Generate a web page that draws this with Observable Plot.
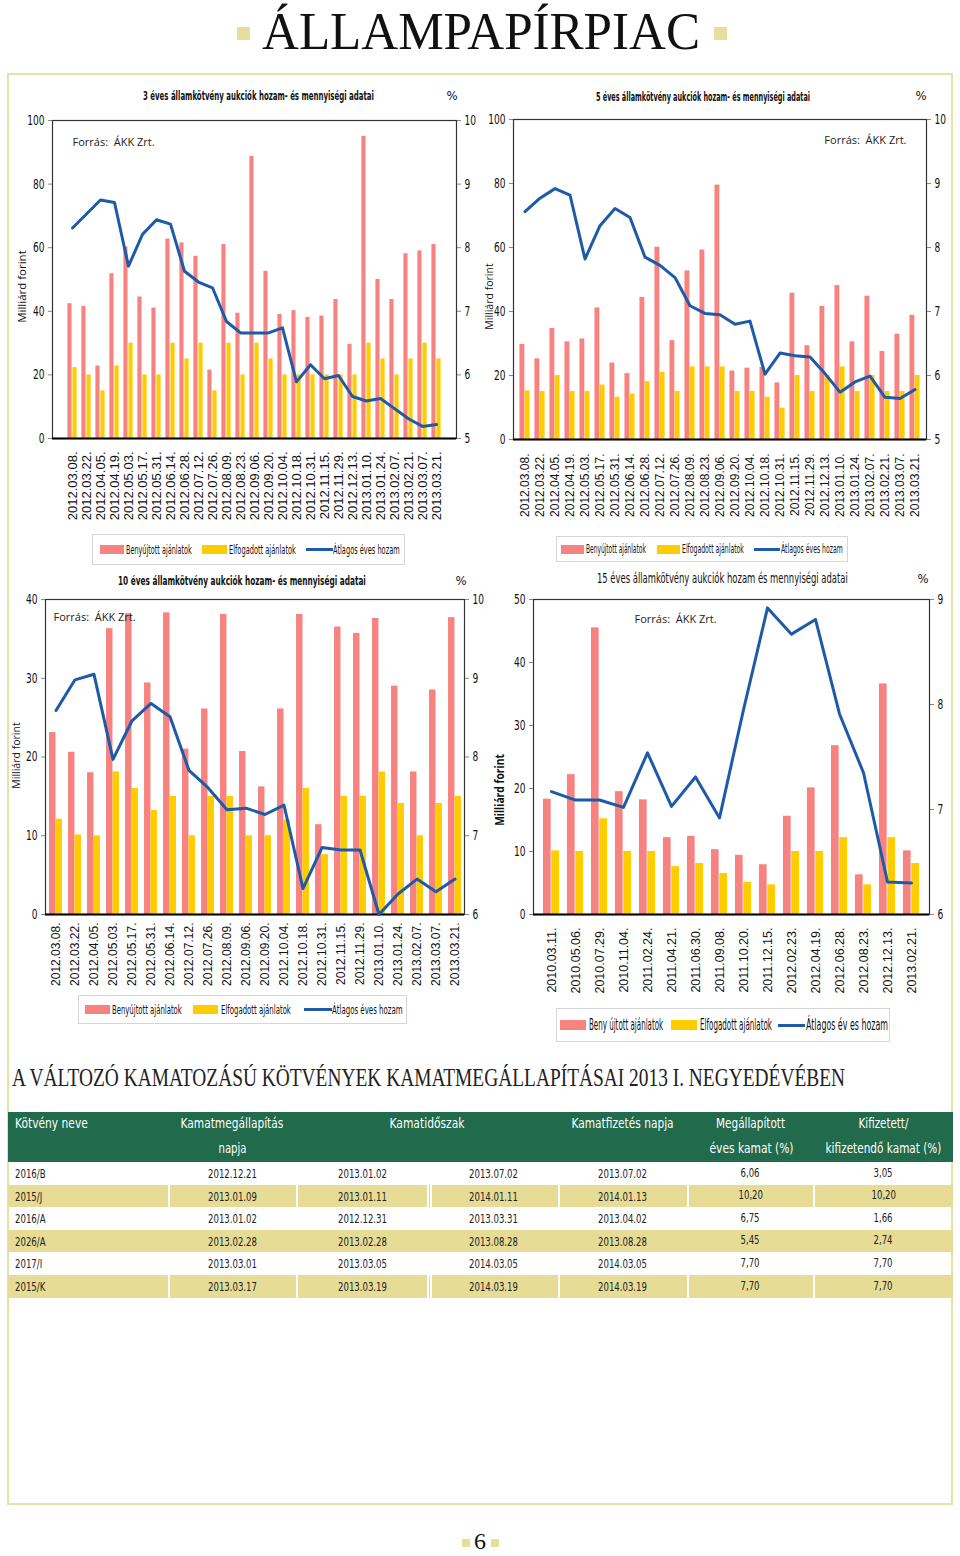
<!DOCTYPE html>
<html><head><meta charset="utf-8">
<script src="https://cdn.jsdelivr.net/npm/d3@7"></script>
<script src="https://cdn.jsdelivr.net/npm/@observablehq/plot@0.6"></script>
<style>
html,body{margin:0;padding:0;background:#fff;}
#page{position:relative;width:960px;height:1556px;overflow:hidden;background:#fff;}
.t{position:absolute;white-space:nowrap;line-height:1;}
.abs{position:absolute;}
svg{overflow:visible;}
</style></head><body><div id="page"></div>
<script>
// ---------- DATA ----------
const dates3 = ["2012.03.08.","2012.03.22.","2012.04.05.","2012.04.19.","2012.05.03.","2012.05.17.","2012.05.31.","2012.06.14.","2012.06.28.","2012.07.12.","2012.07.26.","2012.08.09.","2012.08.23.","2012.09.06.","2012.09.20.","2012.10.04.","2012.10.18.","2012.10.31.","2012.11.15.","2012.11.29.","2012.12.13.","2013.01.10.","2013.01.24.","2013.02.07.","2013.02.21.","2013.03.07.","2013.03.21."];
const sub3 = [42.4,41.5,22.8,51.8,60.2,44.5,41.0,62.7,61.5,57.3,21.5,61.0,39.4,88.7,52.6,39.0,40.2,38.1,38.5,43.7,29.6,95.0,50.0,43.7,58.1,59.0,61.0];
const acc3 = [22.3,20,15,22.8,30,20,20,30,25,30,15,30,20,30,25,20,20,20,20,20,20,30,25,20,25,30,25];
const yld3 = [8.31,8.53,8.75,8.71,7.71,8.21,8.44,8.37,7.63,7.46,7.37,6.84,6.66,6.66,6.66,6.74,5.89,6.16,5.94,5.99,5.66,5.59,5.63,5.47,5.31,5.19,5.22];

const dates5 = dates3.slice();
const sub5 = [29.7,25.2,34.7,30.5,31.4,41.1,23.9,20.6,44.4,60.1,30.9,52.7,59.2,79.5,21.4,22.3,22.5,17.7,45.7,29.3,41.6,48.1,30.5,44.8,27.5,32.9,38.8];
const acc5 = [15.2,15,20,15,15,17,13.2,14.2,18.1,21,15,22.7,22.7,22.7,15,15,13.2,9.8,20,15,20,22.7,15,20,15,15,20];
const yld5 = [8.56,8.77,8.92,8.82,7.82,8.34,8.61,8.47,7.85,7.72,7.53,7.09,6.97,6.95,6.80,6.85,6.02,6.35,6.31,6.29,6.03,5.74,5.90,5.99,5.66,5.64,5.78];

const dates10 = ["2012.03.08.","2012.03.22.","2012.04.05.","2012.05.03.","2012.05.17.","2012.05.31.","2012.06.14.","2012.07.12.","2012.07.26.","2012.08.09.","2012.09.06.","2012.09.20.","2012.10.04.","2012.10.18.","2012.10.31.","2012.11.15.","2012.11.29.","2013.01.10.","2013.01.24.","2013.02.07.","2013.03.07.","2013.03.21."];
const sub10 = [23.1,20.6,18.0,36.3,38.2,29.4,38.3,21.0,26.1,38.1,20.7,16.2,26.1,38.1,11.4,36.5,35.7,37.6,29.0,18.1,28.5,37.7];
const acc10 = [12.1,10.1,10,18.1,16,13.2,15,10,15,15,10,10,12,16,7.6,15,15,18.1,14.1,10,14.1,15];
const yld10 = [8.59,8.98,9.05,7.97,8.46,8.68,8.51,7.83,7.61,7.33,7.35,7.27,7.39,6.33,6.85,6.82,6.82,6.00,6.26,6.45,6.29,6.45];

const dates15 = ["2010.03.11.","2010.05.06.","2010.07.29.","2010.11.04.","2011.02.24.","2011.04.21.","2011.06.30.","2011.09.08.","2011.10.20.","2011.12.15.","2012.02.23.","2012.04.19.","2012.06.28.","2012.08.23.","2012.12.13.","2013.02.21."];
const sub15 = [18.3,22.2,45.5,19.5,18.2,12.2,12.4,10.3,9.4,7.9,15.6,20.1,26.8,6.3,36.6,10.1];
const acc15 = [10.1,10,15.2,10,10,7.6,8.1,6.5,5.1,4.7,10,10,12.2,4.7,12.2,8.1];
const yld15 = [7.17,7.09,7.09,7.02,7.54,7.03,7.31,6.92,7.95,8.92,8.67,8.81,7.91,7.35,6.31,6.30];

const ticksL3 = [0,20,40,60,80,100], ticksR3 = [5,6,7,8,9,10];
const ticksL10 = [0,10,20,30,40], ticksR10 = [6,7,8,9,10];
const ticksL15 = [0,10,20,30,40,50], ticksR15 = [6,7,8,9];

const legendLabels = ["Benyújtott ajánlatok","Elfogadott ajánlatok","Átlagos éves hozam"];
const legendLabels15 = ["Beny újtott ajánlatok","Elfogadott ajánlatok","Átlagos év es hozam"];

const tableHead = ["Kötvény neve","Kamatmegállapítás","napja","Kamatidőszak","Kamatfizetés napja","Megállapított","éves kamat (%)","Kifizetett/","kifizetendő kamat (%)"];
const bondNames = ["2016/B","2015/J","2016/A","2026/A","2017/I","2015/K"];
const fixDates = ["2012.12.21","2013.01.09","2013.01.02","2013.02.28","2013.03.01","2013.03.17"];
const periodStart = ["2013.01.02","2013.01.11","2012.12.31","2013.02.28","2013.03.05","2013.03.19"];
const periodEnd = ["2013.07.02","2014.01.11","2013.03.31","2013.08.28","2014.03.05","2014.03.19"];
const payDates = ["2013.07.02","2014.01.13","2013.04.02","2013.08.28","2014.03.05","2014.03.19"];
const rates = ["6,06","10,20","6,75","5,45","7,70","7,70"];
const paidRates = ["3,05","10,20","1,66","2,74","7,70","7,70"];

// ---------- STYLE ----------
const RED = "#f7827f", YEL = "#ffcc00", BLUE = "#1f5aa8";
const NARROW = "'Liberation Sans Narrow','Arial Narrow','DejaVu Sans Condensed',sans-serif";
const SANS = "'Liberation Sans',Arial,sans-serif";
const SERIF = "'Liberation Serif','DejaVu Serif',serif";
const page = document.getElementById("page");

function box(x, y, w, h, css) {
  const d = document.createElement("div");
  d.className = "abs";
  d.style.left = x + "px"; d.style.top = y + "px";
  d.style.width = w + "px"; d.style.height = h + "px";
  Object.assign(d.style, css || {});
  page.appendChild(d);
  return d;
}
function txt(str, o) {
  const el = document.createElement("div");
  el.className = "t";
  el.textContent = str;
  el.style.fontFamily = o.family || NARROW;
  el.style.fontSize = (o.size || 12) + "px";
  el.style.fontWeight = o.weight || "normal";
  el.style.color = o.color || "#111";
  if (o.ls) el.style.letterSpacing = o.ls + "px";
  page.appendChild(el);
  const w0 = el.offsetWidth, h0 = el.offsetHeight;
  const s = o.w ? o.w / w0 : (o.sx || 1);
  const anchor = o.anchor || "start";
  el.style.top = (o.y - h0 / 2) + "px";
  if (o.rotate) {
    el.style.left = (o.x - w0 / 2) + "px";
    el.style.transformOrigin = "50% 50%";
    el.style.transform = `rotate(${o.rotate}deg) scaleX(${s})`;
  } else {
    if (anchor === "start") { el.style.left = o.x + "px"; el.style.transformOrigin = "0 50%"; }
    else if (anchor === "middle") { el.style.left = (o.x - w0 / 2) + "px"; el.style.transformOrigin = "50% 50%"; }
    else { el.style.left = (o.x - w0) + "px"; el.style.transformOrigin = "100% 50%"; }
    el.style.transform = `scaleX(${s})`;
  }
  return el;
}
function measure(str, size, family) {
  const el = txt(str, {x: 0, y: -100, size, family});
  const w = el.offsetWidth; el.remove(); return w;
}

// ---------- PAGE FRAME ----------
box(7, 73, 946, 1432, {border: "2.5px solid #e8e0a6", boxSizing: "border-box"});
box(237, 27, 13, 13, {background: "#e6de9c"});
box(714, 27, 13, 13, {background: "#e6de9c"});
txt("ÁLLAMPAPÍRPIAC", {x: 262, y: 32, w: 438, size: 52, family: SERIF, color: "#111"});
box(462, 1539, 8, 8, {background: "#e6de9c"});
box(491, 1539, 8, 8, {background: "#e6de9c"});
txt("6", {x: 480, y: 1541, size: 24, family: SERIF, anchor: "middle"});

// ---------- CHARTS ----------
function chart(c) {
  const data = c.dates.map((d, i) => ({d, sub: c.sub[i], acc: c.acc[i], yld: c.yld[i]}));
  const k = c.yMax / (c.rMax - c.rMin);
  const bw = (c.width - c.mL - c.mR) / c.dates.length;
  const svg = Plot.plot({
    width: c.width, height: c.height,
    marginLeft: c.mL, marginRight: c.mR, marginTop: c.mT, marginBottom: c.mB,
    x: {type: "band", domain: c.dates, padding: 0, label: null},
    y: {domain: [0, c.yMax], label: null},
    style: {fontFamily: NARROW, fontSize: "14px", background: "transparent", color: "#111", overflow: "visible"},
    marks: [
      Plot.barY(data, {x: "d", y: "sub", fill: RED, insetLeft: bw * 0.16, insetRight: bw * 0.5}),
      Plot.barY(data, {x: "d", y: "acc", fill: YEL, insetLeft: bw * 0.5, insetRight: bw * 0.16}),
      Plot.frame({stroke: "#333", strokeWidth: 1.2}),
      Plot.ruleY([0], {stroke: "#000", strokeWidth: 2}),
      Plot.line(data, {x: "d", y: d => (d.yld - c.rMin) * k, stroke: BLUE, strokeWidth: 3}),
      Plot.axisY({anchor: "left", ticks: c.ticksL, tickSize: 4, tickPadding: 4, stroke: "#888", fontSize: 14, fontFamily: NARROW, label: null}),
      Plot.axisY({anchor: "right", ticks: c.ticksR.map(v => (v - c.rMin) * k), tickFormat: v => String(Math.round(v / k + c.rMin)), tickSize: 4, tickPadding: 4, stroke: "#888", fontSize: 14, fontFamily: NARROW, label: null}),
      Plot.axisX({tickRotate: -90, tickSize: 0, tickPadding: c.xPad, fontSize: c.xFont, fontFamily: SANS, label: null}),
      Plot.text([c.forras], {text: d => d, frameAnchor: c.fAnchor, textAnchor: c.fAnchor === "top-right" ? "end" : "start", dx: c.fdx, dy: c.fdy, fontSize: 11, fontFamily: "'Open Sans',sans-serif", fill: "#222"})
    ]
  });
  const holder = box(c.left, c.top, c.width, c.height, {});
  holder.appendChild(svg);
  // squeeze y tick labels to look like a narrow face
  svg.querySelectorAll('g[aria-label="y-axis tick label"] text').forEach(t => {
    const L = t.getComputedTextLength();
    if (L > 0) { t.setAttribute("textLength", (L * 0.72).toFixed(2)); t.setAttribute("lengthAdjust", "spacingAndGlyphs"); }
  });
}

const FORRAS = "Forrás:  ÁKK Zrt.";
chart({dates: dates3, sub: sub3, acc: acc3, yld: yld3, yMax: 100, rMin: 5, rMax: 10, ticksL: ticksL3, ticksR: ticksR3,
  left: 0, top: 100, width: 480, height: 440, mL: 52, mR: 24, mT: 20, mB: 102, xPad: 13, xFont: 13,
  forras: FORRAS, fAnchor: "top-left", fdx: 20, fdy: 18});
chart({dates: dates5, sub: sub5, acc: acc5, yld: yld5, yMax: 100, rMin: 5, rMax: 10, ticksL: ticksL3, ticksR: ticksR3,
  left: 480, top: 100, width: 480, height: 440, mL: 33, mR: 34, mT: 19, mB: 101, xPad: 14, xFont: 12,
  forras: FORRAS, fAnchor: "top-right", fdx: -20, fdy: 17});
chart({dates: dates10, sub: sub10, acc: acc10, yld: yld10, yMax: 40, rMin: 6, rMax: 10, ticksL: ticksL10, ticksR: ticksR10,
  left: 0, top: 585, width: 480, height: 410, mL: 45, mR: 16, mT: 14, mB: 81, xPad: 8, xFont: 12,
  forras: FORRAS, fAnchor: "top-left", fdx: 8, fdy: 14});
chart({dates: dates15, sub: sub15, acc: acc15, yld: yld15, yMax: 50, rMin: 6, rMax: 9, ticksL: ticksL15, ticksR: ticksR15,
  left: 480, top: 585, width: 480, height: 425, mL: 53, mR: 31, mT: 14, mB: 96, xPad: 13, xFont: 12.5,
  forras: FORRAS, fAnchor: "top-left", fdx: 101, fdy: 16});

// chart titles, % labels, y labels
txt("3 éves államkötvény aukciók hozam- és mennyiségi adatai", {x: 143, y: 96, w: 231, size: 12, weight: "bold"});
txt("5 éves államkötvény aukciók hozam- és mennyiségi adatai", {x: 596, y: 97, w: 214, size: 12, weight: "bold"});
txt("10 éves államkötvény aukciók hozam- és mennyiségi adatai", {x: 118, y: 580, w: 248, size: 13, weight: "bold"});
txt("15 éves államkötvény aukciók hozam és mennyiségi adatai", {x: 597, y: 578, w: 251, size: 14});
txt("%", {x: 452, y: 95, size: 13, anchor: "middle"});
txt("%", {x: 921, y: 95, size: 13, anchor: "middle"});
txt("%", {x: 461, y: 580, size: 13, anchor: "middle"});
txt("%", {x: 923, y: 578, size: 13, anchor: "middle"});
const OPEN = "'Open Sans',sans-serif";
txt("Milliárd forint", {x: 21, y: 286, w: 72, size: 11, family: OPEN, rotate: -90});
txt("Milliárd forint", {x: 488, y: 296, w: 66, size: 11, family: OPEN, rotate: -90});
txt("Milliárd forint", {x: 15, y: 755, w: 66, size: 11, family: OPEN, rotate: -90});
txt("Milliárd forint", {x: 500, y: 790, w: 72, size: 12, family: OPEN, weight: "bold", rotate: -90});

// ---------- LEGENDS ----------
function legend(L) {
  box(L.x, L.y, L.w, L.h, {border: "1px solid #d6d6d6", background: "#fff", boxSizing: "border-box"});
  const cy = L.y + L.h / 2;
  box(L.r[0], cy - L.sh / 2, L.r[1] - L.r[0], L.sh, {background: RED});
  box(L.yl[0], cy - L.sh / 2, L.yl[1] - L.yl[0], L.sh, {background: YEL});
  box(L.ln[0], cy - 1.5, L.ln[1] - L.ln[0], 3, {background: BLUE});
  L.labels.forEach((s, i) => txt(s, {x: L.tx[i][0], y: cy, w: L.tx[i][1] - L.tx[i][0], size: L.size}));
}
legend({x: 92, y: 534, w: 313, h: 31, sh: 9, r: [100, 124], yl: [202, 227], ln: [306, 333], size: 12,
  tx: [[126, 192], [229, 296], [333, 400]], labels: legendLabels});
legend({x: 556, y: 536, w: 292, h: 26, sh: 9, r: [561, 584], yl: [657, 680], ln: [754, 780], size: 12,
  tx: [[586, 646], [682, 744], [781, 843]], labels: legendLabels});
legend({x: 78, y: 995, w: 329, h: 29, sh: 9, r: [85, 110], yl: [193, 218], ln: [304, 332], size: 12,
  tx: [[112, 182], [221, 291], [332, 403]], labels: legendLabels});
legend({x: 556, y: 1008, w: 334, h: 34, sh: 10, r: [560, 586], yl: [671, 697], ln: [778, 805], size: 15,
  tx: [[589, 663], [700, 772], [806, 888]], labels: legendLabels15});

// ---------- TABLE ----------
txt("A VÁLTOZÓ KAMATOZÁSÚ KÖTVÉNYEK KAMATMEGÁLLAPÍTÁSAI 2013 I. NEGYEDÉVÉBEN", {x: 12, y: 1077, w: 833, size: 25, family: SERIF, color: "#222"});
box(8, 1112, 945, 50, {background: "#216a4b"});
const hy1 = 1123, hy2 = 1148, W = "#ffffff";
txt(tableHead[0], {x: 15, y: hy1, w: 73, size: 14, color: W});
txt(tableHead[1], {x: 232, y: hy1, w: 103, size: 14, color: W, anchor: "middle"});
txt(tableHead[2], {x: 232, y: hy2, w: 28, size: 14, color: W, anchor: "middle"});
txt(tableHead[3], {x: 427, y: hy1, w: 75, size: 14, color: W, anchor: "middle"});
txt(tableHead[4], {x: 622, y: hy1, w: 102, size: 14, color: W, anchor: "middle"});
txt(tableHead[5], {x: 750, y: hy1, w: 69, size: 14, color: W, anchor: "middle"});
txt(tableHead[6], {x: 751, y: hy2, w: 84, size: 14, color: W, anchor: "middle"});
txt(tableHead[7], {x: 883, y: hy1, w: 50, size: 14, color: W, anchor: "middle"});
txt(tableHead[8], {x: 883, y: hy2, w: 116, size: 14, color: W, anchor: "middle"});
const colC = [232, 362, 493, 622, 750, 883];
const seps = [168, 296, 427, 430, 558, 687, 813];
const cellSize = 13;
const cellSx = 49 / measure("2012.12.21", cellSize, NARROW);
bondNames.forEach((n, i) => {
  const y0 = 1162 + i * 22.6;
  if (i % 2 === 1) {
    box(8, y0, 945, 22.6, {background: "#e6dc96"});
    if (i === 1 || i === 5) seps.forEach(x => box(x, y0, 1.5, 22.6, {background: "#fff"}));
  }
  const cy = y0 + 11.5;
  txt(n, {x: 15, y: cy, size: cellSize, sx: cellSx, color: "#222"});
  [fixDates[i], periodStart[i], periodEnd[i], payDates[i], rates[i], paidRates[i]].forEach((v, j) =>
    txt(v, {x: colC[j], y: j >= 4 ? cy - 1.5 : cy, size: cellSize, sx: cellSx, anchor: "middle", color: "#222"}));
});
</script></body></html>
